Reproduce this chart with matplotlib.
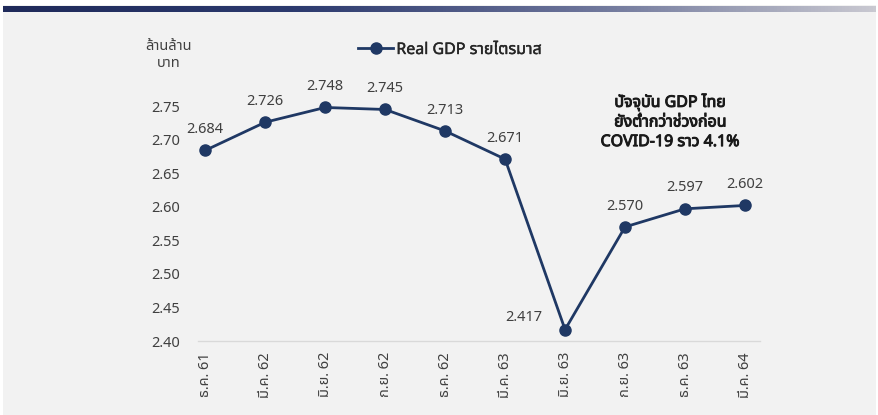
import numpy as np
import matplotlib
matplotlib.use("Agg")
import matplotlib.pyplot as plt
import matplotlib.patheffects as pe
from matplotlib import font_manager
from matplotlib.ft2font import FT2Font
from matplotlib.colors import LinearSegmentedColormap

# Data
quarters = ["ธ.ค. 61", "มี.ค. 62", "มิ.ย. 62", "ก.ย. 62", "ธ.ค. 62",
            "มี.ค. 63", "มิ.ย. 63", "ก.ย. 63", "ธ.ค. 63", "มี.ค. 64"]
gdp = [2.684, 2.726, 2.748, 2.745, 2.713, 2.671, 2.417, 2.570, 2.597, 2.602]
yticks = [2.40, 2.45, 2.50, 2.55, 2.60, 2.65, 2.70, 2.75]
series_name = "Real GDP รายไตรมาส"
unit_text = "ล้านล้าน\nบาท"
note_text = "ปัจจุบัน GDP ไทย\nยังต่ำกว่าช่วงก่อน\nCOVID-19 ราว 4.1%"


def find_thai_fonts():
    # families with Thai glyphs, and whether a bold face exists
    found = {}
    for f in font_manager.fontManager.ttflist:
        try:
            if 0x0E01 in FT2Font(f.fname).get_charmap():
                w = f.weight if isinstance(f.weight, int) else 700 if "bold" in str(f.weight) else 400
                found[f.name] = found.get(f.name, False) or w >= 600
        except Exception:
            pass
    for pref in ["Noto Sans Thai", "Noto Sans Thai UI", "Loma", "Garuda", "Tahoma"]:
        if pref in found:
            return pref, found[pref]
    if found:
        name = sorted(found, key=lambda n: not found[n])[0]
        return name, found[name]
    return None, False


thai, has_bold = find_thai_fonts()
families = ([thai] if thai else []) + ["DejaVu Sans"]
plt.rcParams['font.family'] = families

navy = "#1f3864"
grey_txt = "#404040"
# fake bold when the Thai font has no bold face
bold_fx = [] if has_bold else [pe.withStroke(linewidth=0.7, foreground="#1a1a1a")]

fig = plt.figure(figsize=(8.79, 4.15), dpi=100, facecolor="white")

# page background and header bar
bg = fig.add_axes([3 / 879, 0, 873 / 879, 1 - 5 / 415], zorder=-10)
bg.axis("off")
bg.add_patch(plt.Rectangle((0, 0), 1, 1, transform=bg.transAxes, color="#f2f2f2"))

bar = fig.add_axes([3 / 879, 1 - 12 / 415, 873 / 879, 6 / 415], zorder=-5)
cmap = LinearSegmentedColormap.from_list("hdr", ["#1f2a5a", "#2c3a6e", "#6b7399", "#c9c9d1"])
bar.imshow(np.linspace(0, 1, 256)[None, :], aspect="auto", cmap=cmap, extent=[0, 1, 0, 1])
bar.axis("off")

ax = fig.add_axes([198 / 879, 74 / 415, 562 / 879, 255 / 415])
ax.set_facecolor("none")
x = np.arange(len(gdp))
ax.plot(x, gdp, color=navy, lw=2, marker="o", markersize=8, label=series_name)

ax.set_xlim(-0.12, 9.25)
ax.set_ylim(2.40, 2.78)
ax.set_yticks(yticks)
ax.set_yticklabels([f"{v:.2f}" for v in yticks])
ax.set_xticks(x)
ax.set_xticklabels(quarters, rotation=90)
ax.tick_params(axis="both", length=0, labelsize=10.5, labelcolor=grey_txt)
ax.tick_params(axis="y", pad=13)
ax.tick_params(axis="x", pad=8)
for s in ["top", "right", "left"]:
    ax.spines[s].set_visible(False)
ax.spines["bottom"].set_color("#d9d9d9")
ax.spines["bottom"].set_linewidth(1)

# data labels
for i, v in enumerate(gdp):
    if v == min(gdp):
        ax.annotate(f"{v:.3f}", (i, v), xytext=(-16, 9), textcoords="offset points",
                    ha="right", va="center", fontsize=10.5, color=grey_txt)
    else:
        ax.annotate(f"{v:.3f}", (i, v), xytext=(0, 15), textcoords="offset points",
                    ha="center", va="center", fontsize=10.5, color=grey_txt)

fig.text(169 / 879, 1 - 55 / 415, unit_text, ha="center", va="center",
         fontsize=10.5, color=grey_txt, multialignment="center", linespacing=1.2)

fig.text(670 / 879, 1 - 122 / 415, note_text, ha="center", va="center",
         fontsize=11.5, fontweight="bold", color="#1a1a1a", linespacing=1.3,
         path_effects=bold_fx)

leg = fig.legend(loc="center left", bbox_to_anchor=(358 / 879, 1 - 50 / 415),
                 frameon=False, fontsize=11.5, handlelength=2.2, borderpad=0,
                 borderaxespad=0, handletextpad=0.2, labelcolor="#262626")
for t in leg.get_texts():
    t.set_path_effects([] if has_bold else [pe.withStroke(linewidth=0.3, foreground="#262626")])

fig.savefig("out.png", dpi=100, facecolor="white")
